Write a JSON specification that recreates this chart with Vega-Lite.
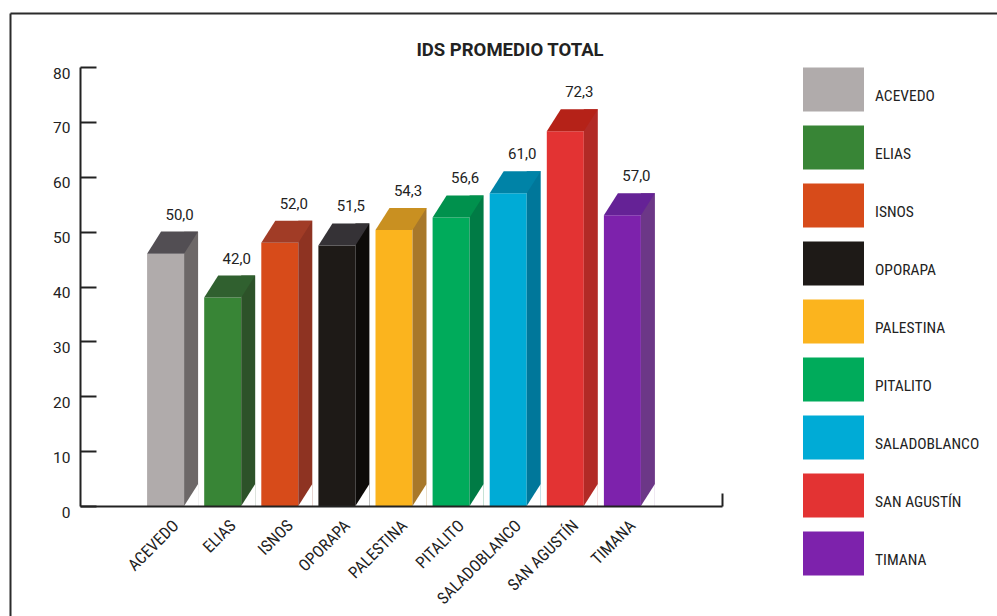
{
  "$schema": "https://vega.github.io/schema/vega-lite/v6.json",
  "width": 987,
  "height": 603,
  "autosize": "none",
  "padding": {"left": 10, "top": 13, "right": 0, "bottom": 0},
  "background": "white",
  "title": {"text": "IDS PROMEDIO TOTAL", "frame": "group", "anchor": "middle", "offset": -61, "baseline": "alphabetic", "dx": 6.5, "font": "Roboto", "fontSize": 18.5, "fontWeight": "bold", "color": "#222222"},
  "data": {"values": [
    {"mun": "ACEVEDO", "valor": 50.0},
    {"mun": "ELIAS", "valor": 42.0},
    {"mun": "ISNOS", "valor": 52.0},
    {"mun": "OPORAPA", "valor": 51.5},
    {"mun": "PALESTINA", "valor": 54.3},
    {"mun": "PITALITO", "valor": 56.6},
    {"mun": "SALADOBLANCO", "valor": 61.0},
    {"mun": "SAN AGUSTÍN", "valor": 72.3},
    {"mun": "TIMANA", "valor": 57.0}
  ]},
  "resolve": {"scale": {"x": "independent", "y": "independent"}},
  "layer": [
    {
      "mark": {"type": "point", "opacity": 0},
      "encoding": {
        "x": {"field": "mun", "type": "nominal", "sort": null, "axis": {"orient": "top", "labels": false, "ticks": false, "domain": true, "domainColor": "#2b2b2b", "domainWidth": 2, "title": null, "grid": false}},
        "y": {"field": "valor", "type": "quantitative", "axis": {"orient": "left", "labels": false, "ticks": false, "domain": true, "domainColor": "#2b2b2b", "domainWidth": 2, "title": null, "grid": false}}
      }
    },
    {
      "mark": {"type": "point", "opacity": 0},
      "encoding": {
        "x": {"field": "mun", "type": "nominal", "sort": null,
          "scale": {"type": "point", "range": [70, 712], "padding": 0},
          "axis": {"orient": "bottom", "offset": -110, "values": ["TIMANA"], "labels": false, "ticks": true, "tickSize": -13, "tickWidth": 2, "tickColor": "#222222", "domain": true, "domainColor": "#222222", "domainWidth": 2, "title": null, "grid": false, "zindex": 1}}
      }
    },
    {
      "resolve": {"scale": {"color": "independent"}},
      "layer": [
        {
          "mark": {"type": "bar", "width": 37, "xOffset": -7, "yOffset": 22},
          "encoding": {
            "x": {"field": "mun", "type": "nominal", "sort": null,
              "scale": {"range": [80, 702], "paddingInner": 0.107, "paddingOuter": 1},
              "axis": {"orient": "bottom", "offset": -110, "title": null, "ticks": false, "domain": false, "labelAngle": -45, "labelFont": "Roboto Condensed, Liberation Sans Narrow, Roboto", "labelFontSize": 16.5, "labelColor": "#222222", "labelPadding": 11, "labelOffset": -2, "zindex": 1, "grid": false}},
            "y": {"field": "valor", "type": "quantitative",
              "scale": {"domain": [0, 80], "range": [493, 54], "nice": false},
              "axis": {"orient": "left", "offset": -70, "title": null, "values": [0, 10, 20, 30, 40, 50, 60, 70, 80], "tickSize": -16, "tickWidth": 2, "tickColor": "#222222", "domainColor": "#222222", "domainWidth": 2, "labelPadding": 26, "labelOffset": 6, "labelFont": "Roboto", "labelFontSize": 15.5, "labelColor": "#222222", "grid": false, "zindex": 1}},
            "y2": {"datum": 0},
            "color": {"field": "mun", "type": "nominal", "sort": null,
              "scale": {"domain": ["ACEVEDO", "ELIAS", "ISNOS", "OPORAPA", "PALESTINA", "PITALITO", "SALADOBLANCO", "SAN AGUSTÍN", "TIMANA"],
                "range": ["#B0ABAB", "#388536", "#D74B1A", "#1E1A17", "#FBB41E", "#00AB5B", "#00ABD6", "#E33333", "#7D22AC"]},
              "legend": {"orient": "none", "legendX": 793, "legendY": 52, "title": null, "symbolType": "M-1,-0.918H1V0.524H-1Z", "symbolSize": 3721, "symbolStrokeWidth": 0, "symbolOpacity": 1, "rowPadding": 11, "labelOffset": 11, "labelFont": "Roboto Condensed, Liberation Sans Narrow, Roboto", "labelFontSize": 15.5, "labelColor": "#222222", "padding": 0, "labelLimit": 200}}
          }
        },
        {
          "mark": {"type": "bar", "width": 14, "xOffset": 18.5},
          "encoding": {
            "x": {"field": "mun", "type": "nominal", "sort": null},
            "y": {"field": "valor", "type": "quantitative"},
            "y2": {"datum": 0},
            "color": {"field": "mun", "type": "nominal", "sort": null,
              "scale": {"domain": ["ACEVEDO", "ELIAS", "ISNOS", "OPORAPA", "PALESTINA", "PITALITO", "SALADOBLANCO", "SAN AGUSTÍN", "TIMANA"],
                "range": ["#6D6868", "#2D5229", "#8E3322", "#0D0B09", "#A8782A", "#007B45", "#00779A", "#B22A26", "#6C3787"]},
              "legend": null}
          }
        },
        {
          "mark": {"type": "point", "shape": "M-0.636,1L0.636,1L0.636,-1Z", "size": 484, "filled": true, "opacity": 1, "strokeWidth": 0, "xOffset": 18.5, "yOffset": -11, "color": "white"},
          "encoding": {
            "x": {"field": "mun", "type": "nominal", "sort": null},
            "y": {"datum": 0}
          }
        },
        {
          "mark": {"type": "point", "shape": "M-1,0.4314L0.451,0.4314L1,-0.4314L-0.451,-0.4314Z", "size": 2601, "filled": true, "opacity": 1, "strokeWidth": 0, "yOffset": 11},
          "encoding": {
            "x": {"field": "mun", "type": "nominal", "sort": null},
            "y": {"field": "valor", "type": "quantitative"},
            "color": {"field": "mun", "type": "nominal", "sort": null,
              "scale": {"domain": ["ACEVEDO", "ELIAS", "ISNOS", "OPORAPA", "PALESTINA", "PITALITO", "SALADOBLANCO", "SAN AGUSTÍN", "TIMANA"],
                "range": ["#524E53", "#30602F", "#A13C26", "#353236", "#C99021", "#00914D", "#0083A7", "#B52218", "#652296"]},
              "legend": null}
          }
        },
        {
          "mark": {"type": "text", "xOffset": 7, "dy": -12, "baseline": "alphabetic", "align": "center", "font": "Roboto", "fontSize": 15, "color": "#222222"},
          "encoding": {
            "x": {"field": "mun", "type": "nominal", "sort": null},
            "y": {"field": "valor", "type": "quantitative"},
            "text": {"field": "valor", "type": "quantitative", "format": ".1f"}
          }
        }
      ]
    }
  ],
  "config": {
    "view": {"stroke": null},
    "axis": {"grid": false},
    "locale": {"number": {"decimal": ",", "thousands": ".", "grouping": [3], "currency": ["", ""]}}
  }
}
